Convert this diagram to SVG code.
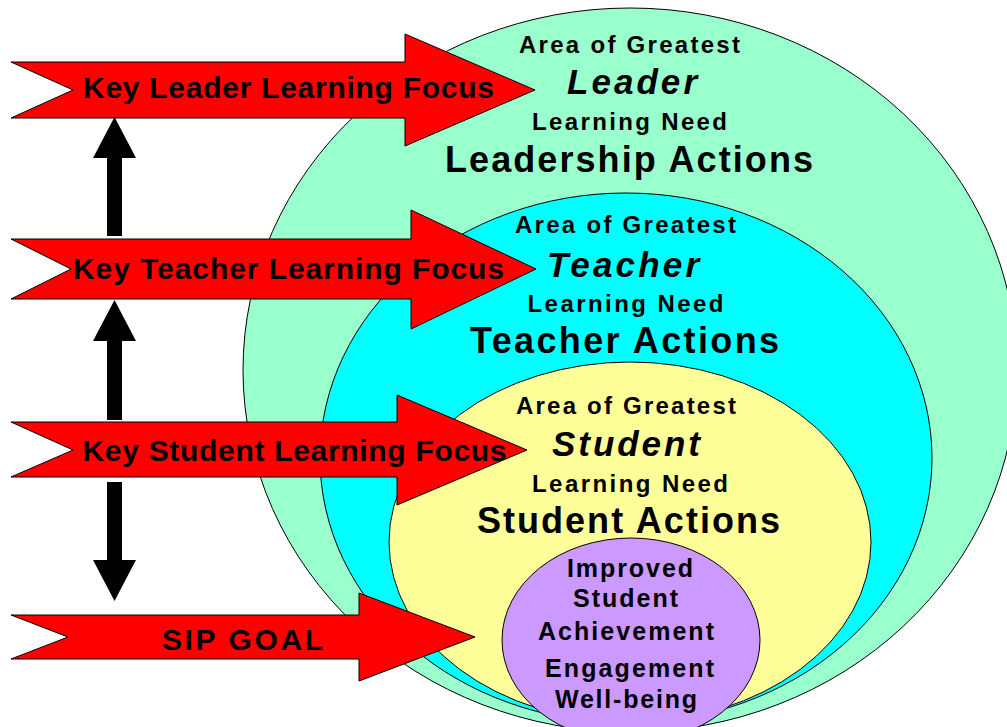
<svg xmlns="http://www.w3.org/2000/svg" width="1007" height="727" viewBox="0 0 1007 727">
<style>
.ell{stroke:#000;stroke-width:1}
.red{fill:#FF0000;stroke:#000;stroke-width:1}
.blk{fill:#000}
text{font-family:"Liberation Sans",Arial,sans-serif;font-weight:bold;fill:#000;text-anchor:middle}
.lab{font-size:30px}
.sm{font-size:24px}
.it{font-size:35px;font-style:italic}
.big{font-size:36px}
.pu{font-size:25px}
</style>
<rect width="1007" height="727" fill="#fff"/>
<g id="leader-circle">
<ellipse class="ell" cx="630" cy="370" rx="387" ry="362" fill="#99FFCC"/>
</g>
<g id="teacher-circle">
<ellipse class="ell" cx="626" cy="458" rx="306" ry="265" fill="#00FFFF"/>
</g>
<g id="student-circle">
<ellipse class="ell" cx="630" cy="542" rx="241" ry="180" fill="#FFFF99"/>
</g>
<g id="goal-circle">
<ellipse class="ell" cx="631" cy="640" rx="129" ry="102" fill="#CC99FF"/>
</g>
<g id="connectors">
<path class="blk" d="M107,236 L107,158 L93,158 L114.5,117 L136,158 L122,158 L122,236 Z"/>
<path class="blk" d="M107,420 L107,341 L93,341 L114.5,300 L136,341 L122,341 L122,420 Z"/>
<path class="blk" d="M107,482 L122,482 L122,560 L136,560 L114.5,601 L93,560 L107,560 Z"/>
</g>
<g id="leader-arrow">
<path class="red" d="M11,62 L405,62 L405,34 L535,90 L405,146 L405,118 L11,118 L73,90 Z"/>
<text class="lab" x="288.5" y="98" textLength="411" lengthAdjust="spacing">Key Leader Learning Focus</text>
</g>
<g id="teacher-arrow">
<path class="red" d="M11,239 L411,239 L411,210 L536,269 L411,329 L411,299 L11,299 L71,269 Z"/>
<text class="lab" x="288.5" y="279" textLength="431" lengthAdjust="spacing">Key Teacher Learning Focus</text>
</g>
<g id="student-arrow">
<path class="red" d="M11,422 L397,422 L397,395 L527,450 L397,505 L397,477 L11,477 L73,450 Z"/>
<text class="lab" x="294.5" y="461" textLength="424" lengthAdjust="spacing">Key Student Learning Focus</text>
</g>
<g id="sip-arrow">
<path class="red" d="M11,615 L359,615 L359,593 L475,637 L359,681 L359,659 L11,659 L68,637 Z"/>
<text class="lab" x="242.5" y="650" textLength="161" lengthAdjust="spacing">SIP GOAL</text>
</g>
<g id="leader-text">
<text class="sm" x="629.5" y="53" textLength="221" lengthAdjust="spacing">Area of Greatest</text>
<text class="it" x="632" y="94" textLength="130" lengthAdjust="spacing">Leader</text>
<text class="sm" x="629.5" y="130" textLength="195" lengthAdjust="spacing">Learning Need</text>
<text class="big" x="629" y="172" textLength="368" lengthAdjust="spacing">Leadership Actions</text>
</g>
<g id="teacher-text">
<text class="sm" x="625.5" y="233" textLength="221" lengthAdjust="spacing">Area of Greatest</text>
<text class="it" x="623" y="277" textLength="152" lengthAdjust="spacing">Teacher</text>
<text class="sm" x="625.5" y="312" textLength="196" lengthAdjust="spacing">Learning Need</text>
<text class="big" x="624.5" y="353" textLength="309" lengthAdjust="spacing">Teacher Actions</text>
</g>
<g id="student-text">
<text class="sm" x="626" y="414" textLength="220" lengthAdjust="spacing">Area of Greatest</text>
<text class="it" x="626" y="456" textLength="148" lengthAdjust="spacing">Student</text>
<text class="sm" x="630" y="492" textLength="196" lengthAdjust="spacing">Learning Need</text>
<text class="big" x="628.5" y="533" textLength="303" lengthAdjust="spacing">Student Actions</text>
</g>
<g id="goal-text">
<text class="pu" x="630" y="577" textLength="126" lengthAdjust="spacing">Improved</text>
<text class="pu" x="625.5" y="607" textLength="105" lengthAdjust="spacing">Student</text>
<text class="pu" x="626" y="640" textLength="176" lengthAdjust="spacing">Achievement</text>
<text class="pu" x="629.5" y="677" textLength="169" lengthAdjust="spacing">Engagement</text>
<text class="pu" x="626" y="708" textLength="142" lengthAdjust="spacing">Well-being</text>
</g>
</svg>
